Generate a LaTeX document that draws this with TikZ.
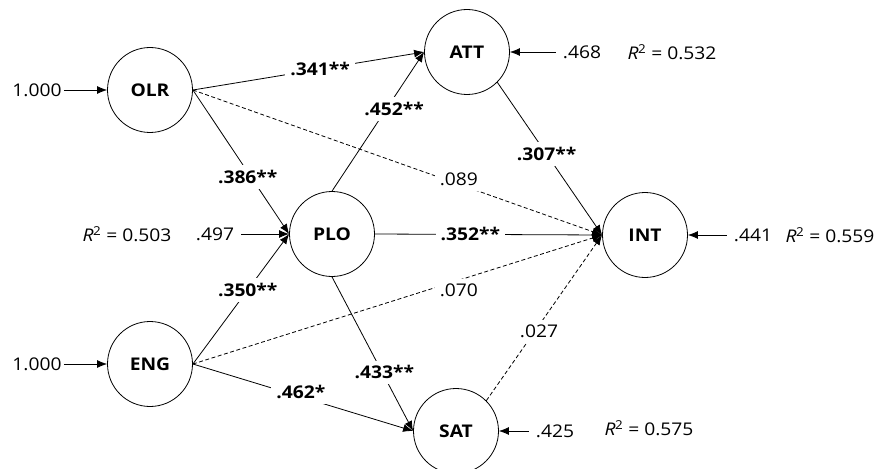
\documentclass[tikz,border=0pt]{standalone}
\usepackage{fontspec}
\setmainfont{Open Sans}[FakeStretch=1.1]
\usetikzlibrary{arrows.meta}
\newcommand{\fsz}{\fontsize{17.5}{21}\selectfont}
\tikzset{
  lv/.style={circle,draw,line width=0.8pt,minimum size=85pt,inner sep=0pt,font=\fsz\bfseries},
  arr/.style={line width=0.8pt,-{Latex[length=10pt,width=8pt]}},
  dsh/.style={arr,dash pattern=on 4pt off 2.5pt},
  lbl/.style={fill=white,inner sep=5pt,font=\fsz\bfseries},
  lbn/.style={fill=white,inner sep=5pt,font=\fsz},
  res/.style={inner sep=7pt,font=\fsz},
  rsq/.style={inner sep=2pt,font=\fsz},
}
\newcommand{\rsqr}[1]{\textit{R}\kern-0.5pt\textsuperscript{2} = #1}
\begin{document}
\begin{tikzpicture}[x=1pt,y=-1pt,font=\fsz]
\useasboundingbox (0,0) rectangle (877,468);
\node[lv] (OLR) at (150,90) {OLR};
\node[lv] (ATT) at (467,52) {ATT};
\node[lv] (PLO) at (332,234) {PLO};
\node[lv] (INT) at (645,235) {INT};
\node[lv] (ENG) at (150,364) {ENG};
\node[lv] (SAT) at (456,431) {SAT};
% residuals
\node[rsq] (eOLR) at (37,90) {1.000};
\node[rsq] (eENG) at (37,364) {1.000};
\node[res] (eATT) at (582,52) {.468};
\node[res] (eINT) at (753,235) {.441};
\node[res] (eSAT) at (555,431) {.425};
\node[res] (ePLO) at (215,234) {.497};
\node (rATT) at (672,52) {\rsqr{0.532}};
\node (rINT) at (830,235) {\rsqr{0.559}};
\node (rSAT) at (649,428) {\rsqr{0.575}};
\node (rPLO) at (127,234) {\rsqr{0.503}};
\draw[arr] (eOLR) -- (OLR);
\draw[arr] (eENG) -- (ENG);
\draw[arr] (eATT) -- (ATT);
\draw[arr] (eINT) -- (INT);
\draw[arr] (eSAT) -- (SAT);
\draw[arr] (ePLO) -- (PLO);
% paths
\draw[dsh] (OLR.east) -- node[lbn,pos=0.65,yshift=5pt] (l089) {.089} (INT.west);
\draw[dsh] (ENG.east) -- node[lbn,pos=0.65,yshift=-10pt] (l070) {.070} (INT.west);
\draw[dsh] (SAT.45) -- node[lbn,pos=0.42,xshift=4pt] (l027) {.027} (INT.west);
\draw[arr] (OLR.east) -- node[lbl,pos=0.55] (l341) {.341**} (ATT.west);
\draw[arr] (OLR.east) -- node[lbl,pos=0.57,yshift=-5pt] (l386) {.386**} (PLO.west);
\draw[arr] (PLO.north) -- node[lbl,pos=0.62,xshift=5pt,yshift=-4pt] (l452) {.452**} (ATT.west);
\draw[arr] (ATT.-45) -- node[lbl,pos=0.47] (l307) {.307**} (INT.west);
\draw[arr] (PLO.east) -- node[lbl,pos=0.42] (l352) {.352**} (INT.west);
\draw[arr] (ENG.east) -- node[lbl,pos=0.57] (l350) {.350**} (PLO.west);
\draw[arr] (PLO.south) -- node[lbl,pos=0.62,xshift=2pt] (l433) {.433**} (SAT.west);
\draw[arr] (ENG.east) -- node[lbl,pos=0.49,yshift=5pt] (l462) {.462*} (SAT.west);
\end{tikzpicture}
\end{document}
